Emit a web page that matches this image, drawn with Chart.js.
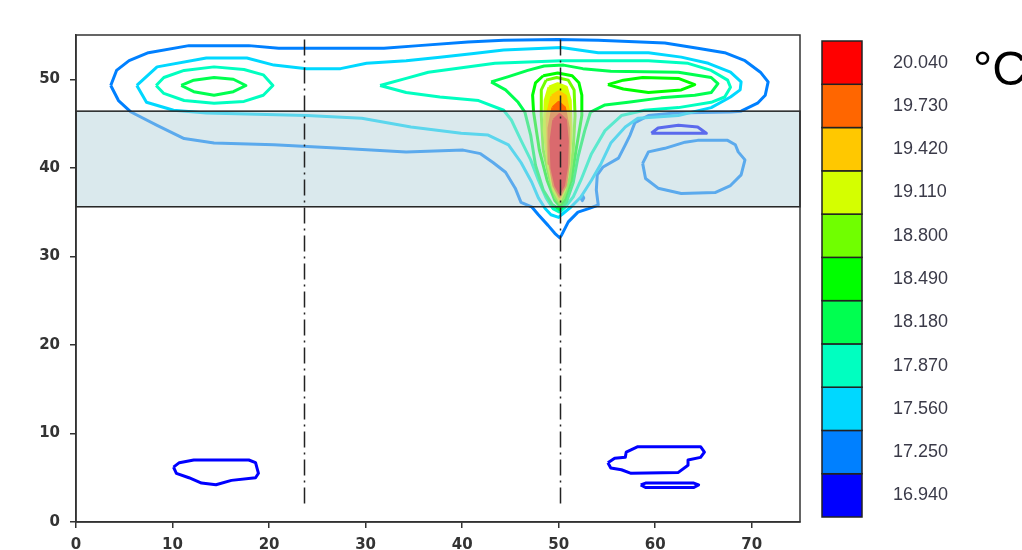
<!DOCTYPE html>
<html lang="en">
<head>
  <meta charset="UTF-8">
  <title>Temperature contours</title>
  <script src="https://cdn.jsdelivr.net/npm/chart.js"></script>
  <style>
    body { margin: 0; background: #fff; }
  </style>
</head>
<body>
  <canvas id="contourChart" width="1022" height="550"></canvas>
  <script>
    // colour scale
    const levels = [16.94, 17.25, 17.56, 17.87, 18.18, 18.49, 18.80, 19.11, 19.42, 19.73, 20.04];
    const levelColors = ['#0000FF', '#0080FF', '#00D8FF', '#00FFC0', '#00FF50', '#00FF00', '#70FF00', '#D4FF00', '#FFC800', '#FF6600', '#FF0000'];
    const levelLabels = ['16.940', '17.250', '17.560', '17.870', '18.180', '18.490', '18.800', '19.110', '19.420', '19.730', '20.040'];

    // shaded band (y range) and the two dash-dot sections
    const bandY = [35.6, 46.4];
    const sectionX = [23.6, 50.1];
    const sectionY = [1.7, 54.5];

    // contour lines, [x, y]
    const c1725Outer = [[3.6,49.3],[4.2,51.0],[5.5,52.1],[7.5,53.0],[11.7,53.8],[17.9,53.8],[21.0,53.5],[31.9,53.5],[35.5,53.8],[40.6,54.2],[44.3,54.4],[49.9,54.5],[54.1,54.4],[61.0,54.1],[64.4,53.5],[67.2,53.0],[69.3,52.1],[70.9,50.8],[71.7,49.7],[71.4,48.2],[70.6,47.3],[68.9,46.4],[67.8,46.3],[62.0,46.2],[59.3,45.9],[57.9,45.1],[57.4,43.7],[56.9,42.6],[56.2,41.1],[54.6,40.1],[54.0,39.2],[53.9,37.5],[54.1,35.8],[53.1,35.4],[52.0,35.0],[51.0,33.9],[50.3,32.4],[50.1,32.1],[49.6,32.6],[48.9,33.5],[47.9,34.7],[47.2,35.6],[46.1,36.1],[45.5,37.7],[44.5,39.5],[43.2,40.6],[41.9,41.6],[40.1,42.0],[34.2,41.8],[27.4,42.2],[20.5,42.6],[14.3,42.8],[11.2,43.3],[8.4,44.8],[5.7,46.3],[4.4,47.6],[3.6,49.3]];
    const c1725Oval = [[58.7,40.5],[59.3,41.8],[61.0,42.2],[63.1,42.9],[64.4,43.1],[67.5,43.1],[68.3,42.6],[68.6,41.8],[69.3,40.9],[68.9,39.2],[67.8,38.0],[66.2,37.2],[62.7,37.1],[60.3,37.7],[59.0,38.8],[58.7,40.5]];
    const c1725Dot = [[52.3,36.6],[52.45,36.9],[52.6,36.6],[52.45,36.3],[52.3,36.6]];
    const c1694Arc = [[59.6,43.9],[60.3,44.5],[62.4,44.8],[64.4,44.6],[65.3,43.9],[59.6,43.9]];
    const c1694Left = [[10.1,6.2],[10.7,6.7],[12.2,7.0],[17.9,7.0],[18.6,6.7],[18.9,5.5],[18.6,5.0],[16.1,4.7],[14.5,4.2],[13.0,4.4],[11.7,5.0],[10.4,5.5],[10.1,6.2]];
    const c1694Right = [[55.1,6.7],[55.8,7.2],[56.9,7.3],[57.0,7.9],[58.2,8.5],[64.7,8.5],[65.1,7.9],[64.7,7.3],[63.4,7.0],[63.4,6.4],[62.4,5.6],[57.5,5.5],[56.5,5.9],[55.4,6.1],[55.1,6.7]];
    const c1694Bar = [[58.5,4.2],[59.0,4.4],[64.0,4.4],[64.5,4.2],[64.0,3.9],[59.0,3.9],[58.5,4.2]];
    const c1756 = [[6.3,49.3],[8.4,51.4],[13.5,52.4],[17.7,52.4],[20.5,51.6],[23.9,51.2],[27.4,51.2],[30.1,51.8],[34.2,52.1],[37.7,52.5],[41.2,52.9],[44.3,53.3],[50.3,53.6],[54.1,53.0],[59.3,53.0],[62.7,52.5],[65.5,51.8],[67.8,50.8],[68.9,49.7],[68.8,48.8],[67.8,48.0],[65.8,46.8],[62.4,45.9],[58.2,45.6],[56.9,44.6],[55.4,42.8],[54.4,40.5],[53.4,38.6],[52.3,36.7],[51.3,35.6],[50.3,34.7],[50.0,34.4],[49.2,34.7],[48.6,35.4],[47.9,36.6],[47.2,38.4],[46.1,40.6],[44.8,42.6],[42.7,43.7],[39.9,43.9],[34.7,44.6],[29.6,45.6],[23.9,45.9],[13.5,46.2],[10.1,46.5],[7.3,47.4],[6.3,49.3]];
    const c1787 = [[31.5,49.3],[34.2,50.1],[36.5,50.8],[43.4,51.8],[50.3,52.1],[54.1,52.1],[59.3,52.1],[63.4,51.8],[65.8,51.0],[67.5,49.9],[67.8,49.1],[67.2,48.0],[65.8,47.4],[62.4,46.8],[58.9,46.5],[56.5,45.9],[54.8,44.2],[53.4,41.6],[52.3,38.6],[51.5,36.7],[50.7,35.6],[50.1,35.0],[49.4,35.4],[48.7,36.6],[47.9,38.6],[47.1,40.9],[46.1,43.1],[45.1,45.4],[44.3,46.5],[41.7,47.6],[37.7,48.0],[34.2,48.5],[31.5,49.3]];
    const c1787Left = [[8.3,49.3],[9.1,50.2],[11.2,51.0],[14.3,51.4],[17.4,51.1],[19.4,50.5],[20.4,49.3],[19.4,48.2],[17.4,47.5],[14.3,47.3],[11.2,47.6],[9.1,48.4],[8.3,49.3]];
    const c1818 = [[43.0,49.7],[44.8,50.3],[46.8,51.0],[48.5,51.5],[50.5,51.6],[52.5,51.2],[55.4,50.9],[62.4,50.8],[65.8,50.2],[66.5,49.5],[65.8,48.5],[64.1,48.2],[60.6,47.9],[57.2,47.4],[54.8,47.1],[53.3,46.3],[52.7,44.2],[52.0,41.2],[51.5,38.3],[50.8,36.1],[50.1,35.3],[49.3,35.9],[48.4,37.5],[47.6,40.3],[47.1,43.7],[46.5,46.3],[45.8,47.4],[44.5,48.8],[43.0,49.7]];
    const c1818Left = [[10.9,49.3],[12.2,49.9],[14.3,50.2],[16.3,50.0],[17.6,49.3],[16.3,48.6],[14.3,48.2],[12.2,48.6],[10.9,49.3]];
    const c1849 = [[48.4,50.4],[49.9,50.7],[51.4,50.4],[52.1,49.6],[52.4,48.2],[52.4,45.9],[51.8,42.0],[51.3,38.6],[50.6,36.3],[50.1,35.7],[49.6,36.3],[48.8,38.6],[48.0,42.0],[47.4,46.3],[47.3,48.2],[47.6,49.6],[48.4,50.4]];
    const c1849Right = [[55.1,49.4],[56.7,49.9],[58.7,50.2],[62.4,50.1],[64.1,49.4],[62.7,48.8],[59.3,48.5],[56.7,48.9],[55.1,49.4]];
    const c1880 = [[48.7,49.9],[49.8,50.2],[51.0,49.9],[51.6,48.8],[51.7,45.9],[51.5,42.0],[51.1,38.6],[50.5,36.6],[50.1,36.0],[49.7,36.6],[49.1,38.6],[48.4,42.0],[48.2,45.9],[48.2,48.8],[48.7,49.9]];
    const c1911 = [[49.0,49.1],[49.9,49.5],[50.8,49.1],[51.2,47.6],[51.3,44.2],[51.1,40.3],[50.6,37.5],[50.1,36.3],[49.5,37.5],[48.9,40.3],[48.5,44.2],[48.6,47.6],[49.0,49.1]];
    const c1942 = [[49.3,48.1],[50.0,48.6],[50.7,48.1],[51.1,45.9],[51.1,42.0],[50.8,38.5],[50.1,36.5],[49.4,38.5],[48.9,42.0],[48.8,45.9],[49.3,48.1]];
    const c1973 = [[49.4,46.8],[50.0,47.4],[50.6,46.8],[51.0,44.5],[51.0,40.5],[50.7,38.0],[50.1,36.8],[49.5,38.0],[49.1,40.5],[49.0,44.5],[49.4,46.8]];
    const c2004 = [[49.5,45.4],[50.1,46.0],[50.7,45.4],[50.9,43.0],[50.8,40.0],[50.5,38.0],[50.1,37.2],[49.7,38.0],[49.3,40.0],[49.2,43.0],[49.5,45.4]];

    const contours = [
      [c1725Outer, 17.25], [c1725Oval, 17.25], [c1725Dot, 17.25],
      [c1694Arc, 16.94], [c1694Left, 16.94], [c1694Right, 16.94], [c1694Bar, 16.94],
      [c1756, 17.56], [c1787, 17.87], [c1787Left, 17.87],
      [c1818, 18.18], [c1818Left, 18.18], [c1849, 18.49], [c1849Right, 18.49],
      [c1880, 18.80], [c1911, 19.11], [c1942, 19.42], [c1973, 19.73], [c2004, 20.04]
    ];
    const filledFrom = 19.11; // the hot core is drawn solid
    const colorOf = (lvl) => levelColors[levels.indexOf(lvl)];

    const overlay = {
      id: 'overlay',
      afterDatasetsDraw(chart) {
        const { ctx, chartArea: a, scales: { x, y } } = chart;
        ctx.save();
        const yt = y.getPixelForValue(bandY[1]);
        const yb = y.getPixelForValue(bandY[0]);
        ctx.fillStyle = 'rgba(182,211,219,0.5)';
        ctx.fillRect(a.left, yt, a.right - a.left, yb - yt);
        ctx.strokeStyle = '#222';
        ctx.lineWidth = 1.5;
        ctx.strokeRect(a.left, yt, a.right - a.left, yb - yt);
        ctx.setLineDash([16, 5, 2, 5]);
        sectionX.forEach(v => {
          const px = Math.round(x.getPixelForValue(v)) + 0.5;
          ctx.beginPath();
          ctx.moveTo(px, y.getPixelForValue(sectionY[1]));
          ctx.lineTo(px, y.getPixelForValue(sectionY[0]));
          ctx.stroke();
        });
        ctx.setLineDash([]);
        ctx.strokeStyle = '#333';
        ctx.strokeRect(a.left, a.top, a.right - a.left, a.bottom - a.top);
        ctx.restore();
      },
      afterDraw(chart) {
        const ctx = chart.ctx;
        const left = 822, width = 40, top = 41, bottom = 517;
        const h = (bottom - top) / levels.length;
        ctx.save();
        levels.forEach((lvl, i) => {
          const yTop = bottom - (i + 1) * h;
          ctx.fillStyle = levelColors[i];
          ctx.fillRect(left, yTop, width, h);
          ctx.strokeStyle = '#222';
          ctx.lineWidth = 1.5;
          ctx.strokeRect(left, yTop, width, h);
          ctx.fillStyle = '#3a3a48';
          ctx.font = '18px "Liberation Sans", Arial, sans-serif';
          ctx.textAlign = 'left';
          ctx.textBaseline = 'middle';
          ctx.fillText(levelLabels[i], 893, yTop + h / 2);
        });
        ctx.fillStyle = '#000';
        ctx.font = '48px "Liberation Sans", Arial, sans-serif';
        ctx.textBaseline = 'alphabetic';
        ctx.fillText('°C', 973, 85);
        ctx.restore();
      }
    };

    const tickFont = { family: 'DejaVu Sans', size: 15, weight: 'bold' };

    // innermost contours first so they sit on top
    const datasets = contours.slice().reverse().map(([pts, lvl]) => ({
      data: pts.map(([x, y]) => ({ x, y })),
      showLine: true,
      borderColor: colorOf(lvl),
      backgroundColor: colorOf(lvl),
      borderWidth: 3,
      borderJoinStyle: 'round',
      pointRadius: 0,
      tension: 0,
      fill: lvl >= filledFrom ? 'shape' : false
    }));

    new Chart(document.getElementById('contourChart'), {
      type: 'scatter',
      data: { datasets },
      options: {
        responsive: false,
        animation: false,
        devicePixelRatio: 1,
        layout: { padding: { top: 35, right: 222, left: 0, bottom: 0 } },
        plugins: { legend: { display: false }, tooltip: { enabled: false } },
        scales: {
          x: {
            type: 'linear', min: 0, max: 75,
            ticks: { stepSize: 10, includeBounds: false, color: '#333', font: tickFont, padding: 8, maxRotation: 0 },
            grid: { drawOnChartArea: false, tickLength: 6, color: '#333', lineWidth: 1.5 },
            border: { color: '#333', width: 1.5 },
            afterFit(s) { s.height = 28; }
          },
          y: {
            type: 'linear', min: 0, max: 55,
            ticks: { stepSize: 10, includeBounds: false, color: '#333', font: tickFont, padding: 10 },
            grid: { drawOnChartArea: false, tickLength: 6, color: '#333', lineWidth: 1.5 },
            border: { color: '#333', width: 1.5 },
            afterFit(s) { s.width = 76; }
          }
        }
      },
      plugins: [overlay]
    });
  </script>
</body>
</html>
